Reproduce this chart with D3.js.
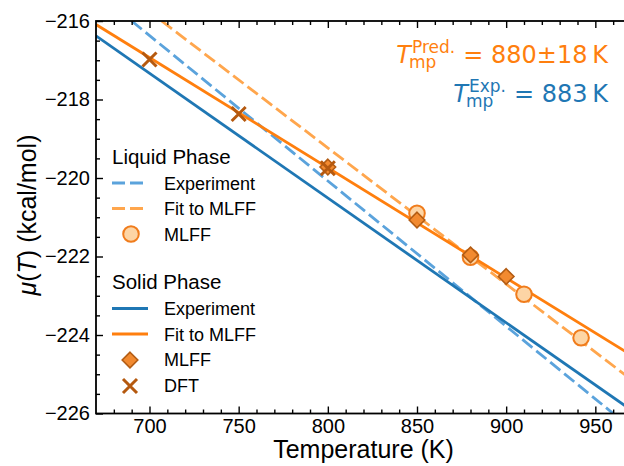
<!DOCTYPE html>
<html><head><meta charset="utf-8">
<script src="https://cdn.jsdelivr.net/npm/d3@7"></script>
<style>body{margin:0;background:#fff;overflow:hidden} svg{display:block}</style>
</head><body>
<svg id="c" width="624" height="466"></svg>
<script>
// ---- data ----
const xDomain = [670, 970];
const yDomain = [-226, -216];
const xTicks = [700, 750, 800, 850, 900, 950];
const yTicks = [-226, -224, -222, -220, -218, -216];
const xMinor = [680,690,710,720,730,740,760,770,780,790,810,820,830,840,860,870,880,890,910,920,930,940,960];
const yMinor = [-225.5,-225,-224.5,-223.5,-223,-222.5,-221.5,-221,-220.5,-219.5,-219,-218.5,-217.5,-217,-216.5];

const liqExpT = [690, 960];      const liqExpMu = [-216.0, -226.0];
const liqFitT = [706.8, 970];    const liqFitMu = [-216.0, -225.13];
const solExpT = [670, 970];      const solExpMu = [-216.38, -225.91];
const solFitT = [670, 970];      const solFitMu = [-216.09, -224.51];

const liqMlffT = [850, 880, 910, 942];   const liqMlffMu = [-220.90, -222.02, -222.96, -224.07];
const solMlffT = [800, 850, 880, 900];   const solMlffMu = [-219.72, -221.07, -221.96, -222.51];
const dftT = [700, 750, 800];            const dftMu = [-216.98, -218.37, -219.75];

const predText = "= 880±18\u2009K";
const expText = "= 883\u2009K";

// ---- style ----
const C = {blue:"#1f77b4", blueL:"#5ba3dc", orange:"#ff7f0e", orangeL:"#ffa64d",
  circFill:"#fdd5a5", circStroke:"#f07c1c", diaFill:"#f28a30", diaStroke:"#b35c13", cross:"#b5590f"};
const FONT = "'Liberation Sans', Arial, Helvetica, sans-serif";
const DASH = "13,5";

const svg = d3.select("#c");
const L = 96, R = 631, T = 21, B = 413.5;
const x = d3.scaleLinear().domain(xDomain).range([L, R]);
const y = d3.scaleLinear().domain(yDomain).range([B, T]);

svg.append("defs").append("clipPath").attr("id","clip")
  .append("rect").attr("x",L).attr("y",T).attr("width",R-L).attr("height",B-T);

const plot = svg.append("g").attr("clip-path","url(#clip)");
const line = d3.line().x(d=>x(d[0])).y(d=>y(d[1]));
function drawLine(ts, ms, color, dash){
  plot.append("path").datum(ts.map((t,i)=>[t, ms[i]]))
    .attr("d", line).attr("fill","none").attr("stroke",color).attr("stroke-width",2.8)
    .attr("stroke-dasharray", dash ? DASH : null);
}
drawLine(liqExpT, liqExpMu, C.blueL, true);
drawLine(liqFitT, liqFitMu, C.orangeL, true);
drawLine(solExpT, solExpMu, C.blue, false);
drawLine(solFitT, solFitMu, C.orange, false);

const sym = svg.append("g");
function circle(g, cx, cy){ g.append("circle").attr("cx",cx).attr("cy",cy).attr("r",7.8)
  .attr("fill",C.circFill).attr("stroke",C.circStroke).attr("stroke-width",2); }
function diamond(g, cx, cy){ const s=7.8; g.append("path")
  .attr("d",`M${cx},${cy-s}L${cx+s},${cy}L${cx},${cy+s}L${cx-s},${cy}Z`)
  .attr("fill",C.diaFill).attr("stroke",C.diaStroke).attr("stroke-width",1.6); }
function cross(g, cx, cy){ const s=7; g.append("path")
  .attr("d",`M${cx-s},${cy-s}L${cx+s},${cy+s}M${cx-s},${cy+s}L${cx+s},${cy-s}`)
  .attr("stroke",C.cross).attr("stroke-width",3).attr("fill","none"); }
liqMlffT.forEach((t,i)=>circle(sym, x(t), y(liqMlffMu[i])));
solMlffT.forEach((t,i)=>diamond(sym, x(t), y(solMlffMu[i])));
dftT.forEach((t,i)=>cross(sym, x(t), y(dftMu[i])));

// ---- axes ----
function styleAxis(g){ g.select(".domain").remove();
  g.selectAll("line").attr("stroke","#000").attr("stroke-width",1.4);
  g.selectAll("text").attr("fill","#000").style("font-family",FONT).style("font-size","20px"); }
const fmt = d3.format("d");
svg.append("g").attr("transform",`translate(0,${B})`)
  .call(d3.axisBottom(x).tickValues(xTicks).tickSize(-7).tickPadding(5).tickFormat(fmt)).call(styleAxis);
svg.append("g").attr("transform",`translate(0,${B})`)
  .call(d3.axisBottom(x).tickValues(xMinor).tickSize(-4).tickFormat("")).call(styleAxis);
svg.append("g").attr("transform",`translate(0,${T})`)
  .call(d3.axisTop(x).tickValues(xTicks).tickSize(-7).tickFormat("")).call(styleAxis);
svg.append("g").attr("transform",`translate(0,${T})`)
  .call(d3.axisTop(x).tickValues(xMinor).tickSize(-4).tickFormat("")).call(styleAxis);
svg.append("g").attr("transform",`translate(${L},0)`)
  .call(d3.axisLeft(y).tickValues(yTicks).tickSize(-7).tickPadding(6).tickFormat(fmt)).call(styleAxis);
svg.append("g").attr("transform",`translate(${L},0)`)
  .call(d3.axisLeft(y).tickValues(yMinor).tickSize(-4).tickFormat("")).call(styleAxis);
svg.append("g").attr("transform",`translate(${R},0)`)
  .call(d3.axisRight(y).tickValues(yTicks).tickSize(-7).tickFormat("")).call(styleAxis);
svg.append("g").attr("transform",`translate(${R},0)`)
  .call(d3.axisRight(y).tickValues(yMinor).tickSize(-4).tickFormat("")).call(styleAxis);
svg.append("rect").attr("x",L).attr("y",T).attr("width",R-L).attr("height",B-T)
  .attr("fill","none").attr("stroke","#000").attr("stroke-width",1.8);

// ---- axis labels ----
svg.append("text").attr("x",(L+R)/2).attr("y",458).attr("text-anchor","middle")
  .style("font-family",FONT).style("font-size","25px").text("Temperature (K)");
const yl = svg.append("text").attr("transform","translate(36,215) rotate(-90)").attr("text-anchor","middle")
  .style("font-family",FONT).style("font-size","25px");
yl.append("tspan").style("font-style","italic").text("μ");
yl.append("tspan").text("(");
yl.append("tspan").style("font-style","italic").text("T");
yl.append("tspan").text(") (kcal/mol)");

// ---- legend ----
const lg = svg.append("g").style("font-family",FONT).attr("fill","#000");
function title(txt, by){ lg.append("text").attr("x",112).attr("y",by).style("font-size","20.5px").text(txt); }
function entry(txt, by){ lg.append("text").attr("x",164).attr("y",by).style("font-size","18px").text(txt); }
function hline(by, color, dash){ lg.append("line").attr("x1",112).attr("x2",148).attr("y1",by-6.5).attr("y2",by-6.5)
  .attr("stroke",color).attr("stroke-width",2.8).attr("stroke-dasharray",dash?DASH:null); }
title("Liquid Phase", 164);
hline(189.5, C.blueL, true); entry("Experiment", 189.5);
hline(215, C.orangeL, true); entry("Fit to MLFF", 215);
circle(lg, 131, 234); entry("MLFF", 240.5);
title("Solid Phase", 288.5);
hline(315, C.blue, false); entry("Experiment", 315);
hline(340.5, C.orange, false); entry("Fit to MLFF", 340.5);
diamond(lg, 130, 360); entry("MLFF", 366);
cross(lg, 130, 386); entry("DFT", 391.5);

// ---- annotations (one text element each, tspans for sup/sub) ----
const AF = "'DejaVu Sans', sans-serif";
function measure(txt, size, italic){
  const t = svg.append("text").style("font-family",AF).style("font-size",size+"px")
    .style("font-style", italic ? "oblique" : "normal").text(txt);
  const w = t.node().getComputedTextLength(); t.remove(); return w;
}
function tmpLabel(by, sup, rest, color){
  const wT = measure("T", 24, true);
  const wSup = measure(sup, 17, false), wSub = measure("mp", 17, false);
  const w = Math.max(wT + 1 + wSup, wT - 2 + wSub);
  const wRest = measure(rest, 24, false);
  const x0 = 608 - (w + 8 + wRest);
  const t = svg.append("text").attr("fill",color).style("font-family",AF).attr("y",by);
  t.append("tspan").attr("x",x0).style("font-size","24px").style("font-style","oblique").text("T");
  t.append("tspan").attr("x",x0+wT+1).attr("dy",-10).style("font-size","17px").text(sup);
  t.append("tspan").attr("x",x0+wT-2).attr("dy",15).style("font-size","17px").text("mp");
  t.append("tspan").attr("x",x0+w+8).attr("dy",-5).style("font-size","24px").text(rest);
}
tmpLabel(63, "Pred.", predText, C.orange);
tmpLabel(102, "Exp.", expText, C.blue);
</script>
</body></html>
